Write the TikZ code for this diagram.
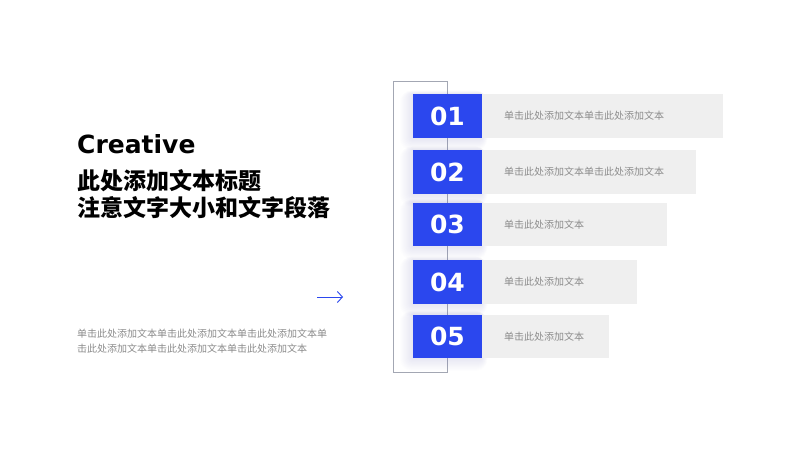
\documentclass[tikz,border=0pt]{standalone}
\usepackage{fontspec}
\setmainfont{DejaVu Sans}
\newfontfamily\cjk{Noto Sans CJK SC}
\usetikzlibrary{arrows.meta,positioning}
\definecolor{royal}{HTML}{2B47EE}
\definecolor{mist}{HTML}{EFEFEF}
\definecolor{ash}{HTML}{8C8C8C}
\definecolor{frame}{HTML}{A3A7B3}

\begin{document}
\begin{tikzpicture}[x=1pt,y=-1pt,num/.style={fill=royal,text=white,minimum width=68.5pt,minimum height=43.5pt,inner sep=0pt,anchor=north west,font=\fontsize{25}{25}\selectfont\bfseries},bar/.style={fill=mist,minimum height=43.5pt,inner sep=0pt,anchor=west},note/.style={text=ash,font=\cjk\fontsize{10}{10}\selectfont},head/.style={anchor=base west,font=\cjk\bfseries\fontsize{23}{23}\selectfont}]
 \useasboundingbox (0,0) rectangle (800,450);
 \fill[white] (0,0) rectangle (800,450);
 \draw[frame,line width=.8pt] (393,81.5) rectangle (447,372.5);
 \foreach \n/\y/\w/\txt in {1/94/241/单击此处添加文本单击此处添加文本,2/150/214.3/单击此处添加文本单击此处添加文本,3/202.7/185.3/单击此处添加文本,4/260/155.3/单击此处添加文本,5/314.3/127.3/单击此处添加文本}{
  \foreach \k in {1,...,12}{\fill[royal,opacity=.008,rounded corners=\k pt] (413-\k*1.1,\y-\k*.3) rectangle (481.5+\k*.5,\y+43.5+\k*1.1);}
  \node[num] (num\n) at (413,\y) {0\n};
  \node[bar,minimum width=\w pt] (bar\n) at (num\n.east) {};
  \node[note,anchor=west,inner sep=0pt] (txt\n) at ([xshift=22pt]bar\n.west) {\txt};
 }
 \node[anchor=base west,inner sep=0pt,font=\fontsize{25}{25}\selectfont\bfseries] (brand) at (77,153) {Creative};
 \node[head,inner sep=0pt] (title1) at (77,189.5) {此处添加文本标题};
 \node[head,inner sep=0pt] (title2) at (77,216.5) {注意文字大小和文字段落};
 \node[note,anchor=base west,inner sep=0pt] (body1) at (77,337) {单击此处添加文本单击此处添加文本单击此处添加文本单};
 \node[note,anchor=base west,inner sep=0pt] (body2) at (77,352) {击此处添加文本单击此处添加文本单击此处添加文本};
 \coordinate (arrS) at (317,297); \coordinate (arrE) at (343,297);
 \draw[royal,line width=.9pt,-{Straight Barb[length=5pt,width=11pt]}] (arrS) -- (arrE);
\end{tikzpicture}
\end{document}
